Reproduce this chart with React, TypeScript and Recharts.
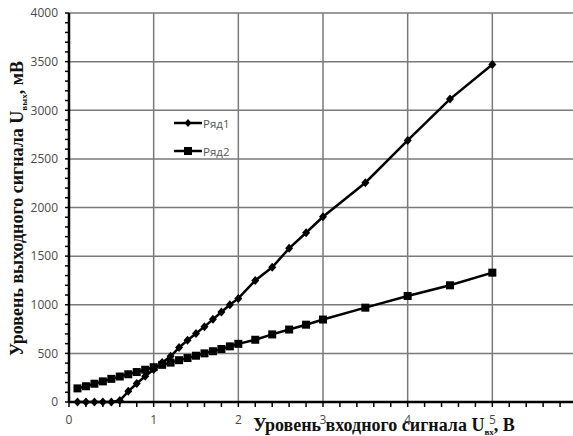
import { CartesianGrid, Label, Legend, Line, LineChart, XAxis, YAxis } from 'recharts';

// input level, V
const inputLevels = [
  0.1, 0.2, 0.3, 0.4, 0.5, 0.6, 0.7, 0.8, 0.9, 1.0,
  1.1, 1.2, 1.3, 1.4, 1.5, 1.6, 1.7, 1.8, 1.9, 2.0,
  2.2, 2.4, 2.6, 2.8, 3.0, 3.5, 4.0, 4.5, 5.0,
];
// output level, mV
const series1 = [
  0, 0, 0, 0, 0, 15, 110, 190, 265, 335,
  405, 470, 560, 635, 705, 775, 850, 925, 1000, 1065,
  1250, 1385, 1580, 1740, 1905, 2255, 2690, 3115, 3470,
];
const series2 = [
  140, 162, 188, 212, 238, 262, 285, 308, 332, 358,
  382, 405, 430, 452, 476, 500, 522, 545, 572, 598,
  640, 695, 745, 795, 848, 970, 1090, 1200, 1330,
];

// major ticks (labels + grid), minor ticks every 0.2 V / 100 mV
const xTicks = [0, 1, 2, 3, 4, 5, 6];
const yTicks = [0, 500, 1000, 1500, 2000, 2500, 3000, 3500, 4000];
const xMinorTicks = Array.from({ length: 31 }, (_, i) => Math.round(i * 2) / 10);
const yMinorTicks = Array.from({ length: 41 }, (_, i) => i * 100);

const seriesNames = ['Ряд1', 'Ряд2'];

const data = inputLevels.map((x, i) => ({ x, s1: series1[i], s2: series2[i] }));

const tickFont = { fontFamily: 'Open Sans', fontSize: 12, fill: '#4a4a4a' };
const labelFont = { fontFamily: 'Liberation Serif', fontWeight: 700, fill: '#111' };

const Diamond = (props: any) => {
  const { cx, cy, index } = props;
  if (cx == null || cy == null) return null;
  return (
    <path
      key={`d-${index}`}
      d={`M${cx},${cy - 4.5}L${cx + 4},${cy}L${cx},${cy + 4.5}L${cx - 4},${cy}Z`}
      fill="#000"
    />
  );
};

const Square = (props: any) => {
  const { cx, cy, index } = props;
  if (cx == null || cy == null) return null;
  return <rect key={`s-${index}`} x={cx - 4} y={cy - 4} width={8} height={8} fill="#000" />;
};

const XTick = (props: any) => {
  const { x, y, payload } = props;
  if (!xTicks.includes(payload.value)) return <g />;
  return (
    <text x={x} y={y} dy="0.71em" textAnchor="middle" {...tickFont}>
      {payload.value}
    </text>
  );
};

const YTick = (props: any) => {
  const { x, y, payload } = props;
  if (!yTicks.includes(payload.value)) return <g />;
  return (
    <text x={x} y={y} dy="0.355em" textAnchor="end" {...tickFont}>
      {payload.value}
    </text>
  );
};

const XTitle = (props: any) => {
  const { viewBox } = props;
  const cx = viewBox.x + viewBox.width / 2 + 61;
  return (
    <text x={cx} y={viewBox.y + 29} textAnchor="middle" fontSize={18} {...labelFont}>
      Уровень входного сигнала U
      <tspan fontSize={9} dy={4}>вх</tspan>
      <tspan dy={-4}>, В</tspan>
    </text>
  );
};

const YTitle = (props: any) => {
  const { viewBox } = props;
  const cy = viewBox.y + viewBox.height / 2 + 1;
  return (
    <text
      x={23}
      y={cy}
      transform={`rotate(-90, 23, ${cy})`}
      textAnchor="middle"
      fontSize={18}
      {...labelFont}
    >
      Уровень выходного сигнала U
      <tspan fontSize={9} dy={4}>вых</tspan>
      <tspan dy={-4}>, мВ</tspan>
    </text>
  );
};

const LegendBox = () => (
  <div style={{ fontFamily: 'Open Sans', fontSize: 11.5, color: '#555' }}>
    {seriesNames.map((name, i) => (
      <div key={name} style={{ display: 'flex', alignItems: 'center', height: 14, marginBottom: 14 }}>
        <svg width={30} height={12}>
          <line x1={1} y1={6} x2={29} y2={6} stroke="#000" strokeWidth={2.5} />
          {i === 0 ? (
            <path d="M15,2L18.5,6L15,10L11.5,6Z" fill="#000" />
          ) : (
            <rect x={11} y={2} width={8} height={8} fill="#000" />
          )}
        </svg>
        <span>{name}</span>
      </div>
    ))}
  </div>
);

export default function App() {
  return (
    <div style={{ position: 'absolute', left: 0, top: 0, width: 573, height: 436, overflow: 'hidden', background: '#fff' }}>
      <LineChart width={600} height={436} data={data} margin={{ top: 13, right: 23, left: 0, bottom: 0 }}>
        <XAxis
          xAxisId="main"
          type="number"
          dataKey="x"
          domain={[0, 6]}
          ticks={xMinorTicks}
          interval={0}
          height={34}
          tickSize={5}
          tickMargin={8}
          tick={<XTick />}
          axisLine={{ stroke: '#000', strokeWidth: 2.5 }}
          tickLine={{ stroke: '#000', strokeWidth: 1.5 }}
          label={<Label content={XTitle} />}
        />
        <YAxis
          yAxisId="main"
          type="number"
          domain={[0, 4000]}
          ticks={yMinorTicks}
          interval={0}
          width={69}
          tickSize={4}
          tickMargin={7}
          tick={<YTick />}
          axisLine={{ stroke: '#000', strokeWidth: 2.5 }}
          tickLine={{ stroke: '#000', strokeWidth: 1.5 }}
          label={<Label content={YTitle} />}
        />
        {/* hidden axes that only feed the grid with the major ticks */}
        <XAxis xAxisId="grid" type="number" dataKey="x" domain={[0, 6]} ticks={xTicks} height={0} hide />
        <YAxis yAxisId="grid" type="number" dataKey="s1" domain={[0, 4000]} ticks={yTicks} width={0} hide />
        <CartesianGrid xAxisId="grid" yAxisId="grid" stroke="#7a7a7a" strokeWidth={1.5} />
        <Legend
          layout="vertical"
          align="center"
          verticalAlign="middle"
          content={<LegendBox />}
          wrapperStyle={{ left: 173, top: 116, width: 80 }}
        />
        <Line
          xAxisId="main"
          yAxisId="main"
          dataKey="s1"
          name={seriesNames[0]}
          stroke="#000"
          strokeWidth={2.5}
          dot={Diamond}
          isAnimationActive={false}
        />
        <Line
          xAxisId="main"
          yAxisId="main"
          dataKey="s2"
          name={seriesNames[1]}
          stroke="#000"
          strokeWidth={2.5}
          dot={Square}
          isAnimationActive={false}
        />
      </LineChart>
    </div>
  );
}
